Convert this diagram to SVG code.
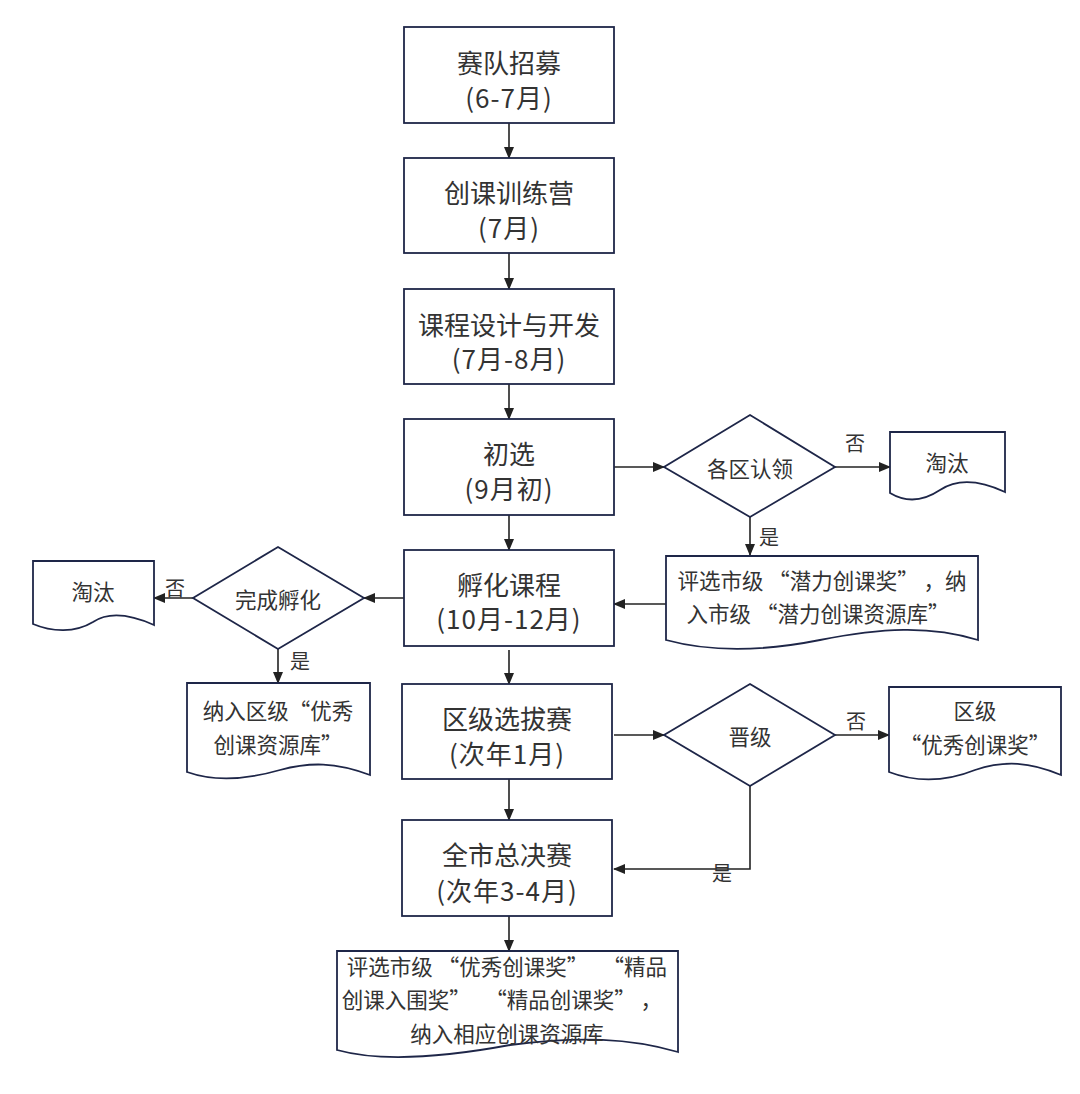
<svg xmlns="http://www.w3.org/2000/svg" width="1080" height="1094" viewBox="0 0 1080 1094">
<style>
.box{fill:#fff;stroke:#1e2648;stroke-width:1.8}
.t{font-family:"Noto Sans CJK SC","Noto Sans",sans-serif;fill:#333;text-anchor:middle;dominant-baseline:central}
.big{font-size:26px}
.sub{letter-spacing:1px}
.mid{font-size:21.5px}
.lbl{font-size:20px}
.ln{fill:none;stroke:#222;stroke-width:1.6}
</style>
<defs>
<marker id="ah" markerWidth="12" markerHeight="10" refX="11" refY="5" orient="auto" markerUnits="userSpaceOnUse">
<path d="M0,0 L12,5 L0,10 Z" fill="#222"/>
</marker>
</defs>
<rect width="1080" height="1094" fill="#fff"/>
<g id="connectors">
<line class="ln" x1="509" y1="123" x2="509" y2="158" marker-end="url(#ah)"/>
<line class="ln" x1="509" y1="253" x2="509" y2="289" marker-end="url(#ah)"/>
<line class="ln" x1="509" y1="384" x2="509" y2="419" marker-end="url(#ah)"/>
<line class="ln" x1="509" y1="515" x2="509" y2="550" marker-end="url(#ah)"/>
<line class="ln" x1="509" y1="650" x2="509" y2="684" marker-end="url(#ah)"/>
<line class="ln" x1="509" y1="779" x2="509" y2="820" marker-end="url(#ah)"/>
<line class="ln" x1="509" y1="916" x2="509" y2="951" marker-end="url(#ah)"/>
<line class="ln" x1="614" y1="467" x2="664" y2="467" marker-end="url(#ah)"/>
<line class="ln" x1="835" y1="467" x2="890" y2="467" marker-end="url(#ah)"/>
<line class="ln" x1="750" y1="517" x2="750" y2="555" marker-end="url(#ah)"/>
<line class="ln" x1="666" y1="604" x2="614" y2="604" marker-end="url(#ah)"/>
<line class="ln" x1="404" y1="598" x2="364" y2="598" marker-end="url(#ah)"/>
<line class="ln" x1="193" y1="598" x2="154" y2="598" marker-end="url(#ah)"/>
<line class="ln" x1="278" y1="649" x2="278" y2="683" marker-end="url(#ah)"/>
<line class="ln" x1="614" y1="735" x2="664" y2="735" marker-end="url(#ah)"/>
<line class="ln" x1="835" y1="735" x2="889" y2="735" marker-end="url(#ah)"/>
<polyline class="ln" points="750,786 750,869 614,869" marker-end="url(#ah)"/>
<text class="t lbl" x="855" y="442">否</text>
<text class="t lbl" x="769" y="536">是</text>
<text class="t lbl" x="175" y="587">否</text>
<text class="t lbl" x="300" y="660">是</text>
<text class="t lbl" x="856" y="720">否</text>
<text class="t lbl" x="722" y="872">是</text>
</g>
<g id="n1"><rect class="box" x="404" y="27" width="210" height="96"/><text class="t big" x="509" y="61">赛队招募</text><text class="t big sub" x="509" y="96">(6-7月)</text></g>
<g id="n2"><rect class="box" x="404" y="158" width="210" height="95"/><text class="t big" x="509" y="191">创课训练营</text><text class="t big sub" x="509" y="226">(7月)</text></g>
<g id="n3"><rect class="box" x="404" y="289" width="210" height="95"/><text class="t big" x="509" y="323">课程设计与开发</text><text class="t big sub" x="509" y="357">(7月-8月)</text></g>
<g id="n4"><rect class="box" x="404" y="419" width="210" height="96"/><text class="t big" x="509" y="452">初选</text><text class="t big sub" x="509" y="487">(9月初)</text></g>
<g id="n5"><rect class="box" x="404" y="550" width="210" height="96"/><text class="t big" x="509" y="583">孵化课程</text><text class="t big sub" x="509" y="617">(10月-12月)</text></g>
<g id="n6"><rect class="box" x="402" y="684" width="210" height="95"/><text class="t big" x="507" y="717">区级选拔赛</text><text class="t big sub" x="507" y="752">(次年1月)</text></g>
<g id="n7"><rect class="box" x="402" y="820" width="210" height="96"/><text class="t big" x="507" y="853">全市总决赛</text><text class="t big sub" x="507" y="889">(次年3-4月)</text></g>
<g id="d1"><polygon class="box" points="750,415 835,467 750,517 664,467"/><text class="t mid" x="750" y="467">各区认领</text></g>
<g id="d2"><polygon class="box" points="278,547 364,598 278,649 193,598"/><text class="t mid" x="278" y="598">完成孵化</text></g>
<g id="d3"><polygon class="box" points="750,684 835,735 750,786 664,735"/><text class="t mid" x="750" y="735">晋级</text></g>
<g id="doc1"><path class="box" d="M890,432 H1005 V492 C975,478 955,480 940,490 C922,502 905,502 890,493 Z"/><text class="t mid" x="947" y="461">淘汰</text></g>
<g id="doc2"><path class="box" d="M666,556 H978 V640 C930,625 880,628 820,640 C760,652 710,652 666,640 Z"/><text class="t mid" x="822" y="579">评选市级 “潜力创课奖” ，纳</text><text class="t mid" x="818" y="612">入市级 “潜力创课资源库”</text></g>
<g id="doc3"><path class="box" d="M33,561 H154 V625 C125,612 105,614 93,622 C75,633 52,632 33,624 Z"/><text class="t mid" x="93" y="590">淘汰</text></g>
<g id="doc4"><path class="box" d="M187,683 H370 V775 C335,762 310,762 280,770 C245,780 215,782 187,772 Z"/><text class="t mid" x="278" y="709">纳入区级“优秀</text><text class="t mid" x="278" y="743">创课资源库”</text></g>
<g id="doc5"><path class="box" d="M889,687 H1061 V775 C1030,762 1005,760 975,770 C945,782 915,782 889,772 Z"/><text class="t mid" x="975" y="709">区级</text><text class="t mid" x="975" y="743">“优秀创课奖”</text></g>
<g id="doc6"><path class="box" d="M337,951 H678 V1052 C630,1038 580,1036 510,1045 C440,1058 380,1062 337,1050 Z"/><text class="t mid" x="507" y="965">评选市级 “优秀创课奖” &#160; “精品</text><text class="t mid" x="502" y="998">创课入围奖” &#160; “精品创课奖” ，</text><text class="t mid" x="507" y="1032">纳入相应创课资源库</text></g>
</svg>
